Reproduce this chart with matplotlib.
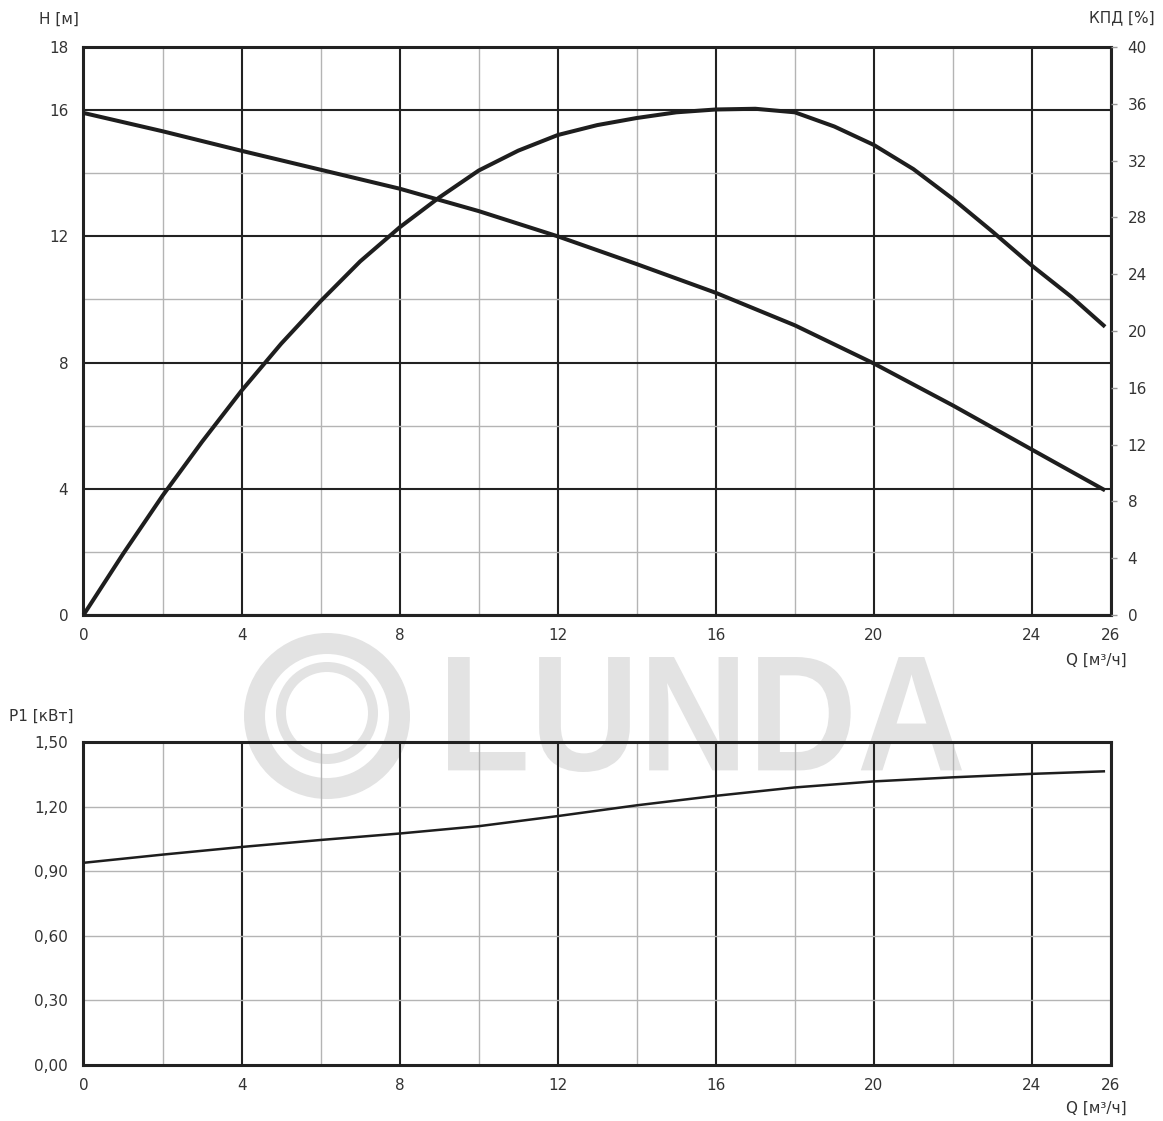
import numpy as np
import matplotlib
matplotlib.use('Agg')
import matplotlib.pyplot as plt
from matplotlib.textpath import TextPath
from matplotlib.patches import PathPatch, Annulus
from matplotlib.font_manager import FontProperties
from matplotlib.ticker import FixedLocator, FuncFormatter
from matplotlib.transforms import Affine2D

# --- data ---
q_head = [0, 2, 4, 6, 8, 10, 12, 14, 16, 18, 20, 22, 24, 25.85]
head = [15.91, 15.33, 14.71, 14.11, 13.51, 12.80, 12.0, 11.12, 10.21, 9.18, 7.97, 6.64, 5.24, 3.95]

q_eff = [0, 1, 2, 3, 4, 5, 6, 7, 8, 9, 10, 11, 12, 13, 14, 15, 16, 17, 18, 19, 20, 21, 22, 23, 24, 25, 25.85]
eff = [0, 4.3, 8.4, 12.2, 15.8, 19.1, 22.1, 24.9, 27.3, 29.4, 31.3, 32.7, 33.8, 34.5, 35.0,
       35.4, 35.6, 35.65, 35.4, 34.4, 33.1, 31.4, 29.3, 27.0, 24.6, 22.4, 20.3]

q_power = [0, 2, 4, 6, 8, 10, 12, 14, 16, 18, 20, 22, 24, 25.85]
power = [0.939, 0.977, 1.0125, 1.045, 1.075, 1.109, 1.156, 1.206, 1.25, 1.289, 1.317, 1.336, 1.352, 1.364]

q_ticks = [0, 4, 8, 12, 16, 20, 24, 26]
q_minor = [2, 6, 10, 14, 18, 22]
h_ticks = [0, 4, 8, 12, 16, 18]
h_minor = [2, 6, 10, 14]
eff_ticks = list(range(0, 41, 4))
p_ticks = [0.0, 0.3, 0.6, 0.9, 1.2, 1.5]

W, H = 1163, 1121
TXT = '#333333'
DARK = '#222222'
LIGHT = '#b4b4b4'
FS = 11

fig = plt.figure(figsize=(W / 100, H / 100), dpi=100)
fig.patch.set_facecolor('white')

# watermark (pixel coords, behind everything)
wm = fig.add_axes([0, 0, 1, 1], zorder=-1)
wm.set_xlim(0, W)
wm.set_ylim(H, 0)
wm.axis('off')
wm_col = '#e3e3e3'
wm.add_patch(Annulus((327, 716), 83, 21, facecolor=wm_col, edgecolor='none'))
wm.add_patch(Annulus((327, 713), 51, 10, facecolor=wm_col, edgecolor='none'))
tp = TextPath((0, 0), 'LUNDA', size=1, prop=FontProperties(family='Liberation Sans', weight='bold'))
ext = tp.get_extents()
tr = (Affine2D().translate(-ext.x0, -ext.y0)
      .scale(514 / ext.width, -115 / ext.height)
      .translate(448, 772) + wm.transData)
wm.add_patch(PathPatch(tp, transform=tr, facecolor=wm_col, edgecolor='none'))


def style_axes(ax, xmax=26):
    ax.set_facecolor('none')
    ax.set_xlim(0, xmax)
    ax.xaxis.set_major_locator(FixedLocator(q_ticks))
    ax.xaxis.set_minor_locator(FixedLocator(q_minor))
    ax.tick_params(axis='x', which='both', length=0, pad=9, labelsize=FS, labelcolor=TXT)
    ax.tick_params(axis='y', which='both', length=0, pad=11, labelsize=FS, labelcolor=TXT)
    ax.xaxis.grid(True, which='major', color=DARK, lw=1.5)
    ax.xaxis.grid(True, which='minor', color=LIGHT, lw=1.0)
    for s in ax.spines.values():
        s.set_linewidth(2.2)
        s.set_color(DARK)
    ax.set_axisbelow(True)


# --- top: head + efficiency ---
ax1 = fig.add_axes([83.5 / W, 1 - 615 / H, (1111 - 83.5) / W, (615 - 47) / H])
style_axes(ax1)
ax1.set_ylim(0, 18)
ax1.yaxis.set_major_locator(FixedLocator(h_ticks))
ax1.yaxis.set_minor_locator(FixedLocator(h_minor))
ax1.yaxis.grid(True, which='major', color=DARK, lw=1.5)
ax1.yaxis.grid(True, which='minor', color=LIGHT, lw=1.0)
ax1.plot(q_head, head, color='#1e1e1e', lw=2.9, solid_capstyle='butt', zorder=3)

ax2 = ax1.twinx()
ax2.set_ylim(0, 40)
ax2.set_yticks(eff_ticks)
ax2.tick_params(axis='y', length=4, width=1, color='#999999', pad=8, labelsize=FS, labelcolor=TXT)
for s in ax2.spines.values():
    s.set_visible(False)
ax2.plot(q_eff, eff, color='#1e1e1e', lw=2.9, solid_capstyle='butt', clip_on=False)

fig.text(39 / W, 1 - 19 / H, 'H [м]', ha='left', va='center', fontsize=FS, color=TXT)
fig.text(1155 / W, 1 - 18 / H, 'КПД [%]', ha='right', va='center', fontsize=FS, color=TXT)
fig.text(1127 / W, 1 - 660 / H, 'Q [м³/ч]', ha='right', va='center', fontsize=FS, color=TXT)

# --- bottom: power ---
ax3 = fig.add_axes([83.5 / W, 1 - 1065 / H, (1111 - 83.5) / W, (1065 - 742) / H])
style_axes(ax3)
ax3.set_ylim(0, 1.5)
ax3.yaxis.set_major_locator(FixedLocator(p_ticks))
ax3.yaxis.set_major_formatter(FuncFormatter(lambda v, p: f'{v:.2f}'.replace('.', ',')))
ax3.yaxis.grid(True, which='major', color=LIGHT, lw=1.0)
ax3.plot(q_power, power, color='#1e1e1e', lw=1.8, solid_capstyle='butt', zorder=3)

fig.text(9 / W, 1 - 716 / H, 'P1 [кВт]', ha='left', va='center', fontsize=FS, color=TXT)
fig.text(1127 / W, 1 - 1108 / H, 'Q [м³/ч]', ha='right', va='center', fontsize=FS, color=TXT)

plt.savefig('out.png', dpi=100)
